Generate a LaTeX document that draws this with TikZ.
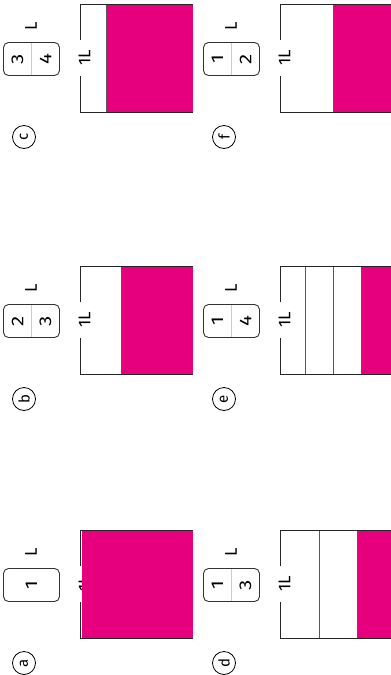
\documentclass[tikz,border=0pt]{standalone}
\usepackage{fontspec}
\setmainfont{Fira Sans}
\definecolor{mag}{HTML}{E6007E}
\tikzset{
 wall/.style={draw=black!85, line width=1pt},
 divider/.style={draw=black!65, line width=1pt},
 liquid/.style={fill=mag},
 fracframe/.style={draw=black!80, rounded corners=5pt, line width=0.9pt},
 fracbar/.style={draw=black!20, line width=0.8pt},
 txt/.style={rotate=90, inner sep=0pt, font=\fontsize{17}{17}\selectfont},
 digit/.style={rotate=90, inner sep=0pt, font=\fontsize{17}{17}\selectfont},
 tag/.style={circle, draw=black, line width=0.8pt, minimum size=23pt, inner sep=0pt, rotate=90, font=\fontsize{15}{15}\selectfont},
}
\newcommand\widedigit[1]{\scalebox{1.2}[1]{#1}}
% #1 id, #2 X, #3 T, #4 fill start, #5 divider code, #6 tag letter
\newcommand\vesselpanel[6]{%
\begin{scope}[shift={(#2,#3)}]
 \node[txt] (#1-cap) at (84.5,54) {1L};
 \fill[liquid] (#4,0) rectangle (193,108);
 #5
 \draw[wall] (80,36) -- (80,0) -- (193,0);
 \draw[wall] (80,72) -- (80,108) -- (193,108);
 \node[tag] (#1-tag) at (24,133) {#6};
 \node[txt] (#1-unit) at (31,22) {L};
\end{scope}}
% #1 id, #2 X, #3 T, #4 num, #5 den
\newcommand\fracpanel[5]{%
\begin{scope}[shift={(#2,#3)}]
 \draw[fracframe] (3.5,38.5) rectangle (59.5,71.5);
 \draw[fracbar] (31.5,39) -- (31.5,71);
 \node[digit] (#1-num) at (17.5,55) {\widedigit{#4}};
 \node[digit] (#1-den) at (45.5,55) {\widedigit{#5}};
\end{scope}}
\begin{document}
\begin{tikzpicture}[x=1pt,y=-1pt]
\useasboundingbox (0,0) rectangle (391,675);
% column 1
\vesselpanel{a}{0}{530}{81.5}{}{a}
\begin{scope}[shift={(0,530)}]
 \draw[fracframe] (3.5,38.5) rectangle (59.5,71.5);
 \node[digit] (a-num) at (31.5,55) {\widedigit{1}};
\end{scope}
\vesselpanel{b}{0}{266}{121}{\draw[divider] (121,0) -- (121,108);}{b}
\fracpanel{b}{0}{266}{2}{3}
\vesselpanel{c}{0}{4}{106.5}{\draw[divider] (106.5,0) -- (106.5,108);}{c}
\fracpanel{c}{0}{4}{3}{4}
% column 2
\vesselpanel{d}{200}{530}{157.5}{\draw[divider] (119.5,0) -- (119.5,108); \draw[divider] (157.5,0) -- (157.5,108);}{d}
\fracpanel{d}{200}{530}{1}{3}
\vesselpanel{e}{200}{266}{161.5}{\draw[divider] (105.5,0) -- (105.5,108); \draw[divider] (133.5,0) -- (133.5,108); \draw[divider] (161.5,0) -- (161.5,108);}{e}
\fracpanel{e}{200}{266}{1}{4}
\vesselpanel{f}{200}{4}{133.5}{\draw[divider] (133.5,0) -- (133.5,108);}{f}
\fracpanel{f}{200}{4}{1}{2}
\end{tikzpicture}
\end{document}
